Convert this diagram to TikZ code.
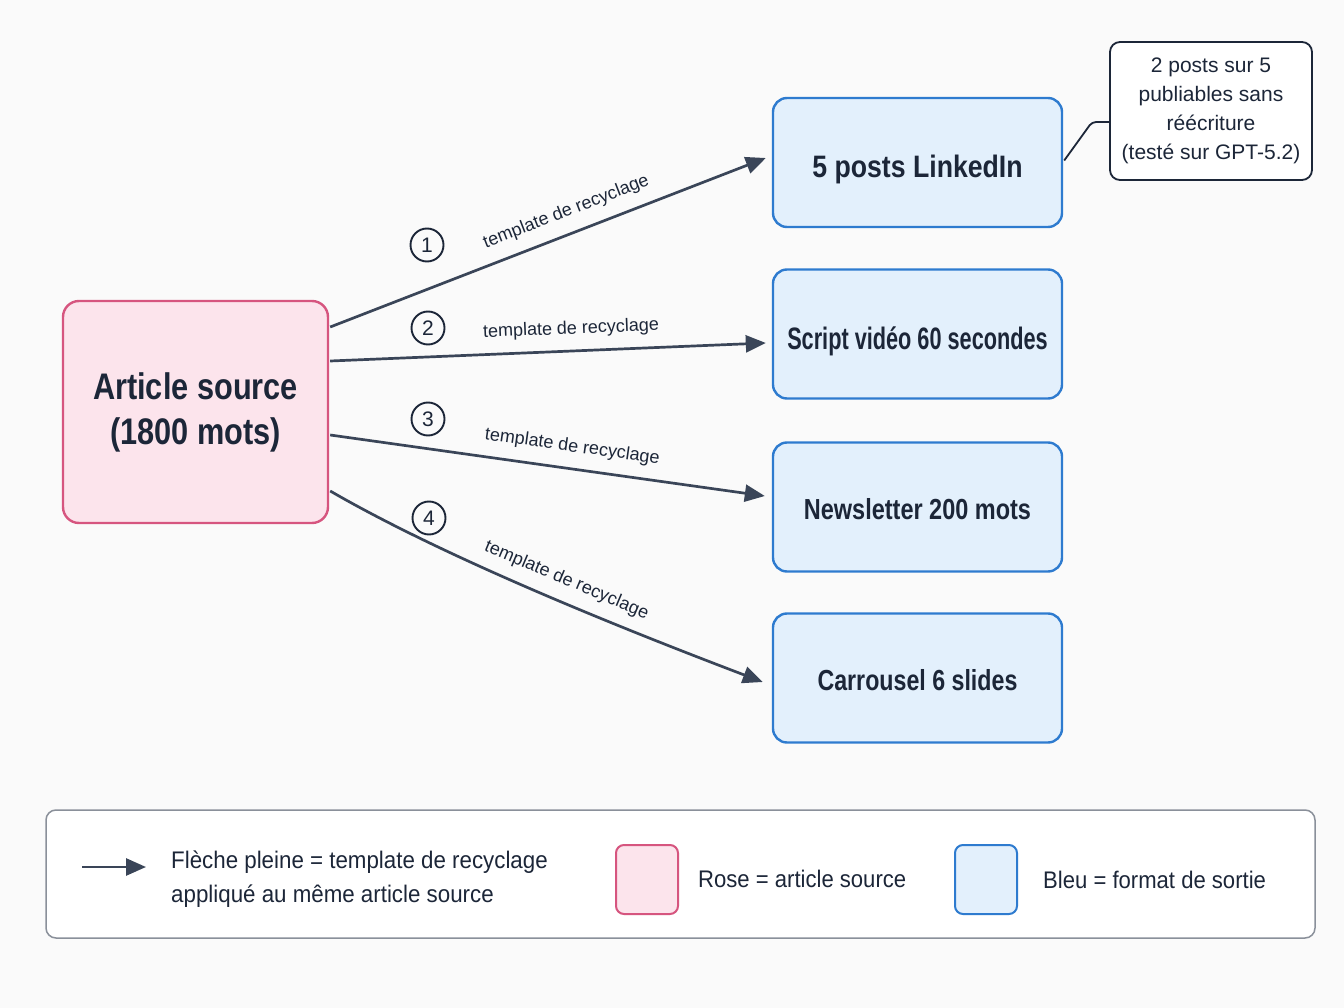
\documentclass[tikz,border=0pt]{standalone}
\usepackage{fontspec}
\setmainfont{Liberation Sans}
\usetikzlibrary{arrows.meta,calc}
\definecolor{bgc}{HTML}{FAFAFA}
\definecolor{txt}{HTML}{1C2638}
\definecolor{arrc}{HTML}{3A4558}
\definecolor{pinkf}{HTML}{FCE4EC}
\definecolor{pinkd}{HTML}{D6557F}
\definecolor{bluef}{HTML}{E3F0FC}
\definecolor{blued}{HTML}{2E7BCF}
\definecolor{legd}{HTML}{8A909A}
\newcommand{\sx}[2]{\scalebox{#1}[1]{#2}}
\newcommand{\hb}[2]{\raisebox{0pt}[#1][0pt]{#2}}
\begin{document}
\begin{tikzpicture}[x=1pt,y=-1pt,
  srcbox/.style={draw=pinkd, fill=pinkf, line width=2.4pt, rounded corners=16pt,
    minimum width=265pt, minimum height=222pt, align=center, text=txt, inner sep=0pt,
    font=\fontsize{37}{45}\selectfont\bfseries},
  outbox/.style={draw=blued, fill=bluef, line width=2.4pt, rounded corners=14pt,
    minimum width=289pt, minimum height=129pt, text=txt, inner sep=0pt},
  notebox/.style={draw=txt, fill=white, line width=1.8pt, rounded corners=10pt,
    minimum width=202pt, minimum height=138pt, align=center, text=txt, inner sep=0pt,
    font=\fontsize{21}{29}\selectfont},
  circ/.style={circle, draw=txt, line width=1.9pt, minimum size=33pt, inner sep=0pt,
    text=txt, font=\fontsize{21}{24}\selectfont},
  lbl/.style={font=\fontsize{18}{22}\selectfont, text=txt, sloped, above=9pt, inner sep=3pt},
  arr/.style={draw=arrc, line width=2.7pt, -{Triangle[length=20pt,width=17pt]}},
  legbox/.style={draw=legd, fill=white, line width=1.5pt, rounded corners=10pt,
    minimum width=1269pt, minimum height=128pt, inner sep=0pt},
  swpink/.style={draw=pinkd, fill=pinkf, line width=2pt, rounded corners=8pt,
    minimum width=62pt, minimum height=69pt, inner sep=0pt},
  swblue/.style={draw=blued, fill=bluef, line width=2pt, rounded corners=8pt,
    minimum width=62pt, minimum height=69pt, inner sep=0pt},
  legtxt/.style={text=txt, anchor=west, align=left, inner sep=0pt,
    font=\fontsize{24}{34}\selectfont}
]
\useasboundingbox[fill=bgc] (0,0) rectangle (1344,1008);

% source
\node[srcbox] (src) at (195.5,412)
  {\sx{0.83}{Article source}\\ \sx{0.83}{(1800 mots)}};

% outputs
\node[outbox] (o1) at (917.5,162.5) {\fontsize{31}{37}\selectfont\bfseries\hb{30pt}{\sx{0.86}{5 posts LinkedIn}}};
\node[outbox] (o2) at (917.5,334) {\fontsize{31}{37}\selectfont\bfseries\hb{31pt}{\sx{0.70}{Script vidéo 60 secondes}}};
\node[outbox] (o3) at (917.5,507) {\fontsize{29}{35}\selectfont\bfseries\hb{25pt}{\sx{0.81}{Newsletter 200 mots}}};
\node[outbox] (o4) at (917.5,678) {\fontsize{29}{35}\selectfont\bfseries\hb{25pt}{\sx{0.80}{Carrousel 6 slides}}};

% note
\node[notebox] (note) at (1211,111)
  {2 posts sur 5\\publiables sans\\réécriture\\(testé sur GPT-5.2)};
\coordinate (nk) at (1092,122);
\draw[draw=txt, line width=1.8pt, rounded corners=4pt]
  ($(o1.east)+(1,-2)$) -- (nk) -- ($(note.west)+(0,11)$);

% arrows
\draw[arr] ($(src.east)+(1,-85)$) -- ($(o1.west)+(-6,-4.5)$)
  node[lbl,pos=0.56] {template de recyclage};
\draw[arr] ($(src.east)+(1,-51)$) -- ($(o2.west)+(-6,9)$)
  node[lbl,pos=0.555] {template de recyclage};
\draw[arr] ($(src.east)+(1,23)$) -- ($(o3.west)+(-7,-11)$)
  node[lbl,pos=0.55] {template de recyclage};
\draw[arr] ($(src.east)+(1,79)$) .. controls (420,543) and (560,605) .. ($(o4.west)+(-9,4)$)
  node[lbl,pos=0.62] {template de recyclage};

% circled numbers
\node[circ] (c1) at (427,245) {1};
\node[circ] (c2) at (428,328) {2};
\node[circ] (c3) at (428,419) {3};
\node[circ] (c4) at (429,518) {4};

% legend
\node[legbox] (leg) at (680.5,874) {};
\coordinate (la1) at (82,867);
\coordinate (la2) at (146,867);
\draw[arr] (la1) -- (la2);
\node[legtxt] (lt1) at (171,879)
  {\sx{0.93}{Flèche pleine = template de recyclage}\\\sx{0.93}{appliqué au même article source}};
\node[swpink] (sp) at (647,879.5) {};
\node[legtxt] (lt2) at (698,879) {\sx{0.92}{Rose = article source}};
\node[swblue] (sb) at (986,879.5) {};
\node[legtxt] (lt3) at (1043,880) {\sx{0.92}{Bleu = format de sortie}};
\end{tikzpicture}
\end{document}
